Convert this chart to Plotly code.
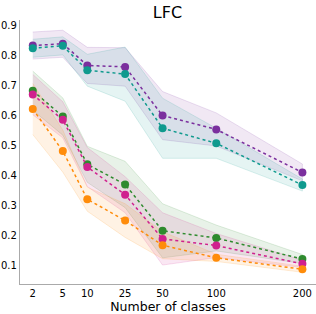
import numpy as np
import plotly.graph_objects as go

# ---- data ----
classes = [2, 5, 10, 25, 50, 100, 200]
tick_labels = ["2", "5", "10", "25", "50", "100", "200"]

purple_mean = [0.832, 0.838, 0.766, 0.761, 0.599, 0.553, 0.410]
purple_std = [0.045, 0.045, 0.060, 0.064, 0.080, 0.055, 0.028]
teal_mean = [0.823, 0.831, 0.750, 0.737, 0.557, 0.507, 0.368]
teal_std = [0.030, 0.030, 0.053, 0.090, 0.100, 0.050, 0.020]
green_mean = [0.682, 0.596, 0.437, 0.370, 0.216, 0.192, 0.122]
green_std = [0.065, 0.062, 0.060, 0.077, 0.090, 0.043, 0.015]
magenta_mean = [0.669, 0.585, 0.428, 0.336, 0.189, 0.167, 0.106]
magenta_std = [0.067, 0.060, 0.065, 0.060, 0.087, 0.040, 0.012]
orange_mean = [0.621, 0.481, 0.321, 0.250, 0.168, 0.126, 0.088]
orange_std = [0.085, 0.070, 0.040, 0.056, 0.045, 0.012, 0.010]

series = [
    ("purple", purple_mean, purple_std, (123, 47, 158)),
    ("teal", teal_mean, teal_std, (15, 154, 142)),
    ("green", green_mean, green_std, (46, 139, 46)),
    ("magenta", magenta_mean, magenta_std, (208, 32, 142)),
    ("orange", orange_mean, orange_std, (255, 140, 10)),
]


# custom x scale (mixed log/linear) used by the original axis
def xscale(v):
    v = np.asarray(v, dtype=float)
    return 30.7 * np.log(v) + 0.65 * v


xs = xscale(classes)

fig = go.Figure()

for name, m, s, c in series:
    m = np.array(m)
    s = np.array(s)
    up = m + s
    lo = m - s
    fig.add_trace(go.Scatter(
        x=np.concatenate([xs, xs[::-1]]),
        y=np.concatenate([up, lo[::-1]]),
        fill="toself",
        fillcolor=f"rgba({c[0]},{c[1]},{c[2]},0.11)",
        line=dict(color=f"rgba({c[0]},{c[1]},{c[2]},0.15)", width=1),
        hoverinfo="skip",
        showlegend=False,
        mode="lines",
    ))

for name, m, s, c in series:
    col = f"rgb({c[0]},{c[1]},{c[2]})"
    fig.add_trace(go.Scatter(
        x=xs, y=m, mode="lines+markers",
        line=dict(color=col, width=1.5, dash="dot"),
        marker=dict(color=col, size=8),
        showlegend=False, name=name,
    ))

x0 = xscale([2])[0] - 12.8
fig.update_layout(
    width=316, height=314,
    margin=dict(l=20, r=0, t=20, b=30),
    paper_bgcolor="white", plot_bgcolor="white",
    font=dict(family="DejaVu Sans", color="black", size=10),
    title=dict(text="LFC", x=0.53, xanchor="center", y=0.96, yanchor="middle",
               font=dict(size=16, color="black")),
    showlegend=False,
)
fig.update_xaxes(
    range=[x0, x0 + 296.5],
    tickvals=list(xs), ticktext=tick_labels,
    showgrid=False, zeroline=False,
    showline=True, linecolor="#aaaaaa", linewidth=1.2,
    ticks="", ticklen=0,
    tickfont=dict(size=10),
    title=dict(text="Number of classes", font=dict(size=12.5), standoff=4),
)
fig.update_yaxes(
    range=[0.039, 0.917],
    tickvals=[0.1, 0.2, 0.3, 0.4, 0.5, 0.6, 0.7, 0.8, 0.9],
    ticktext=["0.1", "0.2", "0.3", "0.4", "0.5", "0.6", "0.7", "0.8", "0.9"],
    showgrid=False, zeroline=False,
    showline=True, linecolor="#aaaaaa", linewidth=1.2,
    ticks="", ticklen=0,
    tickfont=dict(size=10),
)

fig.write_html(
    "out.html",
    config={"displayModeBar": False},
    post_script="document.body.style.margin='0';document.body.style.overflow='hidden';",
)
